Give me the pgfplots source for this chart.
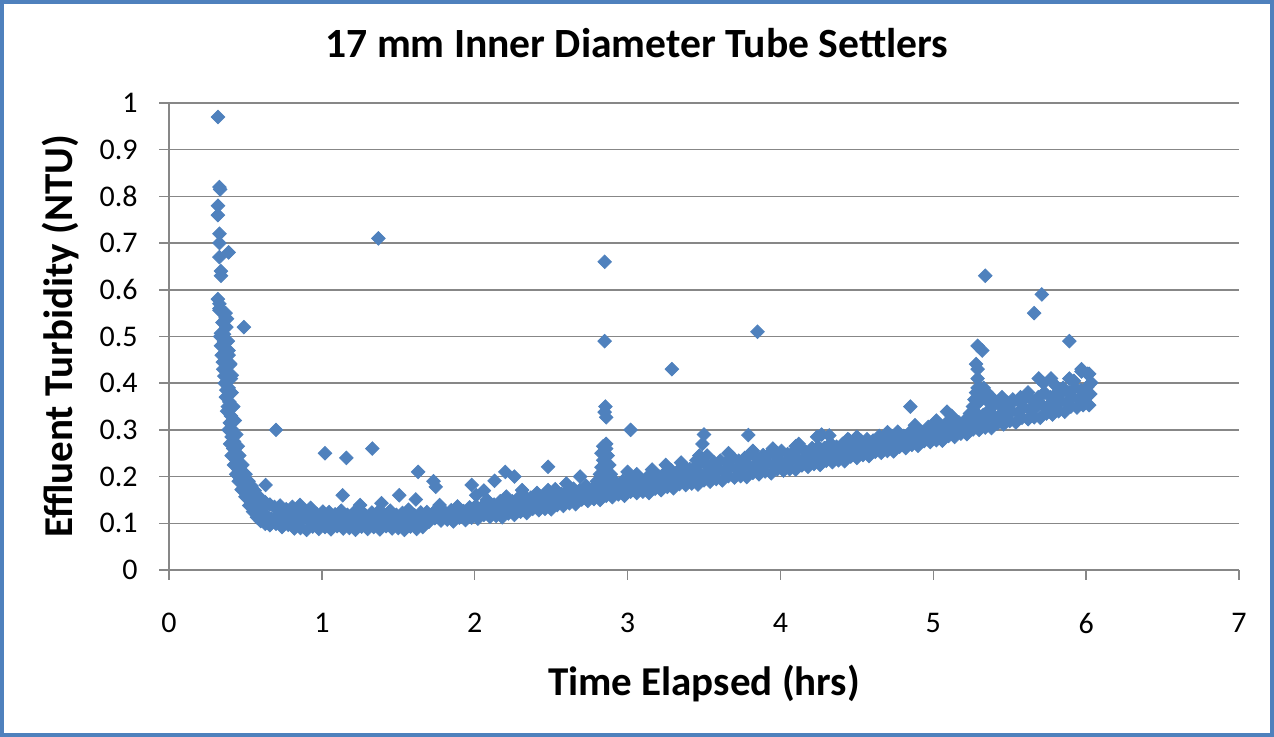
\documentclass[border=0pt]{standalone}
\usepackage{pgfplots}
\pgfplotsset{compat=1.18}
\usepackage{fontspec}
\setmainfont{Carlito}
\definecolor{excelblue}{HTML}{4F81BD}
\definecolor{gridgray}{HTML}{878787}
\pgfplotstableread{
x y
0.32 0.97
0.33 0.82
0.335 0.815
0.32 0.78
0.32 0.76
0.33 0.72
0.33 0.70
0.39 0.68
0.33 0.67
0.34 0.64
0.34 0.63
0.32 0.58
0.33 0.57
0.33 0.556
0.355 0.55
0.37 0.54
0.38 0.538
0.49 0.52
0.34 0.507
0.36 0.505
0.39 0.47
0.40 0.442
0.41 0.417
0.416 0.349
1.37 0.71
0.70 0.30
1.02 0.25
1.16 0.24
1.33 0.26
1.63 0.21
1.73 0.19
1.745 0.178
1.136 0.16
1.506 0.16
1.615 0.151
0.632 0.182
1.98 0.182
2.13 0.191
2.20 0.21
2.26 0.20
2.48 0.221
2.31 0.171
0.857 0.139
1.25 0.139
1.39 0.143
1.77 0.139
2.08 0.15
2.48 0.171
2.85 0.66
2.85 0.49
2.855 0.35
2.85 0.338
2.86 0.327
3.29 0.43
3.02 0.30
3.85 0.51
3.50 0.29
3.49 0.27
3.79 0.289
4.85 0.35
5.09 0.339
5.29 0.48
5.32 0.47
5.28 0.441
5.29 0.43
5.29 0.41
5.34 0.63
5.66 0.55
5.71 0.59
5.89 0.49
5.97 0.43
6.02 0.42
4.27 0.29
4.32 0.288
4.12 0.27
4.44 0.28
}\outliers
\pgfplotstableread{
x y
0.330 0.560
0.335 0.500
0.345 0.460
0.355 0.430
0.365 0.400
0.372 0.370
0.380 0.340
0.390 0.300
0.400 0.270
0.410 0.245
0.425 0.225
0.440 0.205
0.456 0.190
0.475 0.172
0.500 0.157
0.525 0.138
0.550 0.125
0.575 0.113
0.600 0.105
0.630 0.099
0.660 0.096
0.370 0.550
0.375 0.520
0.385 0.490
0.390 0.460
0.400 0.440
0.405 0.410
0.410 0.380
0.420 0.350
0.430 0.320
0.440 0.290
0.450 0.265
0.460 0.245
0.480 0.225
0.500 0.205
0.520 0.190
0.540 0.180
0.560 0.170
0.580 0.160
0.600 0.150
0.630 0.145
0.660 0.140
0.690 0.135
0.350 0.530
0.360 0.490
0.370 0.450
0.380 0.420
0.390 0.390
0.395 0.360
0.405 0.330
0.415 0.300
0.425 0.275
0.435 0.250
0.450 0.230
0.465 0.210
0.485 0.190
0.510 0.175
0.530 0.160
0.560 0.145
0.580 0.135
0.610 0.125
0.640 0.115
0.670 0.110
0.340 0.480
0.352 0.445
0.362 0.415
0.375 0.385
0.385 0.350
0.398 0.315
0.410 0.285
0.420 0.260
0.440 0.235
0.455 0.215
0.470 0.195
0.495 0.180
0.520 0.165
0.545 0.150
0.570 0.140
0.600 0.130
0.620 0.120
}\descent
\pgfplotstableread{
x y
0.700 0.099
0.713 0.118
0.727 0.138
0.740 0.092
0.753 0.111
0.767 0.130
0.780 0.097
0.793 0.116
0.807 0.135
0.820 0.089
0.833 0.107
0.847 0.124
0.860 0.090
0.873 0.108
0.887 0.127
0.900 0.086
0.913 0.110
0.927 0.133
0.940 0.093
0.953 0.107
0.967 0.120
0.980 0.088
0.993 0.106
1.007 0.125
1.020 0.092
1.033 0.108
1.047 0.124
1.060 0.087
1.073 0.103
1.087 0.119
1.100 0.094
1.113 0.110
1.127 0.127
1.140 0.089
1.153 0.104
1.167 0.118
1.180 0.090
1.193 0.106
1.207 0.122
1.220 0.086
1.233 0.108
1.247 0.129
1.260 0.093
1.273 0.105
1.287 0.117
1.300 0.088
1.313 0.106
1.327 0.123
1.340 0.092
1.353 0.108
1.367 0.124
1.380 0.087
1.393 0.103
1.407 0.119
1.420 0.094
1.433 0.110
1.447 0.127
1.460 0.089
1.473 0.104
1.487 0.118
1.500 0.090
1.513 0.106
1.527 0.122
1.540 0.086
1.553 0.108
1.567 0.129
1.580 0.093
1.593 0.105
1.607 0.117
1.620 0.088
1.633 0.106
1.647 0.123
1.660 0.092
1.673 0.108
1.687 0.124
1.700 0.103
1.713 0.113
1.727 0.122
1.740 0.111
1.753 0.121
1.767 0.131
1.780 0.106
1.793 0.115
1.807 0.123
1.820 0.108
1.833 0.118
1.847 0.128
1.860 0.104
1.873 0.120
1.887 0.136
1.900 0.112
1.913 0.119
1.927 0.126
1.940 0.107
1.953 0.121
1.967 0.134
1.980 0.112
1.993 0.125
2.007 0.137
2.020 0.110
2.033 0.123
2.047 0.135
2.060 0.118
2.073 0.132
2.087 0.146
2.100 0.114
2.113 0.127
2.127 0.140
2.140 0.116
2.153 0.131
2.167 0.147
2.180 0.113
2.193 0.135
2.207 0.157
2.220 0.121
2.233 0.134
2.247 0.147
2.260 0.118
2.273 0.137
2.287 0.155
2.300 0.125
2.313 0.141
2.327 0.158
2.340 0.122
2.353 0.139
2.367 0.155
2.380 0.131
2.393 0.148
2.407 0.165
2.420 0.128
2.433 0.143
2.447 0.158
2.460 0.131
2.473 0.147
2.487 0.164
2.500 0.130
2.513 0.151
2.527 0.173
2.540 0.139
2.553 0.151
2.567 0.163
2.580 0.137
2.593 0.154
2.607 0.171
2.620 0.143
2.633 0.158
2.647 0.174
2.660 0.141
2.673 0.156
2.687 0.171
2.700 0.151
2.713 0.166
2.727 0.181
2.740 0.148
2.753 0.161
2.767 0.174
2.780 0.152
2.793 0.166
2.807 0.180
2.820 0.150
2.833 0.169
2.847 0.189
2.860 0.159
2.873 0.169
2.887 0.179
2.900 0.156
2.913 0.171
2.927 0.187
2.940 0.162
2.953 0.176
2.967 0.190
2.980 0.159
2.993 0.173
3.007 0.187
3.020 0.168
3.033 0.183
3.047 0.198
3.060 0.165
3.073 0.178
3.087 0.191
3.100 0.168
3.113 0.183
3.127 0.198
3.140 0.165
3.153 0.186
3.167 0.208
3.180 0.174
3.193 0.187
3.207 0.200
3.220 0.171
3.233 0.190
3.247 0.209
3.260 0.178
3.273 0.195
3.287 0.213
3.300 0.175
3.313 0.193
3.327 0.211
3.340 0.184
3.353 0.203
3.367 0.222
3.380 0.182
3.393 0.199
3.407 0.216
3.420 0.185
3.433 0.203
3.447 0.222
3.460 0.183
3.473 0.207
3.487 0.232
3.500 0.192
3.513 0.207
3.527 0.222
3.540 0.189
3.553 0.209
3.567 0.230
3.580 0.195
3.593 0.214
3.607 0.234
3.620 0.192
3.633 0.211
3.647 0.231
3.660 0.201
3.673 0.221
3.687 0.241
3.700 0.198
3.713 0.216
3.727 0.234
3.740 0.201
3.753 0.220
3.767 0.240
3.780 0.199
3.793 0.224
3.807 0.249
3.820 0.208
3.833 0.223
3.847 0.239
3.860 0.205
3.873 0.225
3.887 0.246
3.900 0.211
3.913 0.230
3.927 0.249
3.940 0.207
3.953 0.226
3.967 0.246
3.980 0.216
3.993 0.235
4.007 0.255
4.020 0.213
4.033 0.230
4.047 0.248
4.060 0.216
4.073 0.235
4.087 0.254
4.100 0.215
4.113 0.239
4.127 0.263
4.140 0.224
4.153 0.238
4.167 0.253
4.180 0.221
4.193 0.241
4.207 0.261
4.220 0.227
4.233 0.245
4.247 0.264
4.260 0.225
4.273 0.243
4.287 0.261
4.300 0.234
4.313 0.252
4.327 0.271
4.340 0.231
4.353 0.247
4.367 0.264
4.380 0.235
4.393 0.252
4.407 0.270
4.420 0.233
4.433 0.256
4.447 0.279
4.460 0.243
4.473 0.256
4.487 0.269
4.500 0.240
4.513 0.258
4.527 0.277
4.540 0.246
4.553 0.263
4.567 0.280
4.580 0.244
4.593 0.260
4.607 0.277
4.620 0.253
4.633 0.270
4.647 0.287
4.660 0.251
4.673 0.266
4.687 0.281
4.700 0.255
4.713 0.271
4.727 0.287
4.740 0.254
4.753 0.275
4.767 0.296
4.780 0.264
4.793 0.275
4.807 0.287
4.820 0.261
4.833 0.278
4.847 0.295
4.860 0.268
4.873 0.283
4.887 0.298
4.900 0.266
4.913 0.280
4.927 0.295
4.940 0.276
4.953 0.291
4.967 0.306
4.980 0.274
4.993 0.286
5.007 0.299
5.020 0.278
5.033 0.291
5.047 0.305
5.060 0.277
5.073 0.296
5.087 0.315
5.100 0.287
5.113 0.297
5.127 0.307
5.140 0.285
5.153 0.300
5.167 0.316
5.180 0.292
5.193 0.306
5.207 0.320
5.220 0.291
5.233 0.305
5.247 0.319
5.260 0.301
5.273 0.317
5.287 0.334
5.300 0.300
5.313 0.316
5.327 0.332
5.340 0.305
5.353 0.324
5.367 0.343
5.380 0.304
5.393 0.330
5.407 0.357
5.420 0.314
5.433 0.331
5.447 0.349
5.460 0.312
5.473 0.335
5.487 0.358
5.500 0.319
5.513 0.340
5.527 0.362
5.540 0.316
5.553 0.337
5.567 0.359
5.580 0.326
5.593 0.348
5.607 0.370
5.620 0.323
5.633 0.343
5.647 0.363
5.660 0.327
5.673 0.348
5.687 0.370
5.700 0.326
5.713 0.353
5.727 0.380
5.740 0.335
5.753 0.352
5.767 0.370
5.780 0.333
5.793 0.356
5.807 0.379
5.820 0.340
5.833 0.361
5.847 0.382
5.860 0.339
5.873 0.359
5.887 0.380
5.900 0.350
5.913 0.370
5.927 0.391
5.940 0.348
5.953 0.366
5.967 0.385
5.980 0.353
5.993 0.372
6.007 0.392
6.020 0.353
6.027 0.377
6.033 0.401
}\band
\pgfplotstableread{
x y
2.80 0.19
2.82 0.205
2.83 0.22
2.84 0.235
2.85 0.25
2.86 0.26
2.86 0.27
2.87 0.245
2.88 0.225
2.89 0.205
2.85 0.215
2.87 0.195
2.83 0.25
2.84 0.265
5.24 0.335
5.26 0.35
5.27 0.365
5.28 0.38
5.29 0.39
5.31 0.385
5.30 0.36
5.32 0.375
5.33 0.39
5.34 0.37
5.35 0.38
5.36 0.36
5.38 0.37
5.45 0.37
5.52 0.365
5.57 0.37
5.62 0.38
5.69 0.41
5.72 0.40
5.77 0.41
5.80 0.395
5.85 0.39
5.89 0.41
5.92 0.405
5.97 0.425
6.01 0.42
2.01 0.16
2.06 0.17
2.60 0.185
2.69 0.20
3.00 0.21
3.06 0.205
3.16 0.215
3.25 0.225
3.35 0.23
3.45 0.235
3.47 0.245
3.52 0.245
3.66 0.25
3.82 0.255
3.95 0.26
4.10 0.265
4.24 0.285
4.50 0.285
4.70 0.295
4.88 0.31
5.02 0.32
5.12 0.33
}\bumps
\begin{document}
\begin{tikzpicture}
\path[use as bounding box] (0pt,0pt) rectangle (637pt,368.5pt);
\draw[excelblue, line width=2pt] (1pt,1pt) rectangle (636pt,367.5pt);
\begin{axis}[
  at={(84.5pt,83.5pt)}, anchor=south west,
  scale only axis, width=535pt, height=233.5pt,
  xmin=0, xmax=7, ymin=0, ymax=1,
  xtick={0,1,2,3,4,5,6,7},
  ytick={0,0.1,0.2,0.3,0.4,0.5,0.6,0.7,0.8,0.9,1},
  axis lines*=left,
  axis line style={gridgray, line width=0.75pt},
  ymajorgrids, major grid style={gridgray, line width=0.75pt},
  tick style={gridgray, line width=0.75pt},
  tick align=outside, major tick length=5pt,
  /pgf/number format/assume math mode=true,
  yticklabel style={/pgf/number format/fixed, /pgf/number format/precision=1, anchor=east, inner sep=0pt, xshift=-10.5pt},
  xticklabel style={anchor=north, inner sep=0pt, yshift=-16.5pt},
  ticklabel style={font=\fontsize{15}{18}\selectfont},
  title={17 mm Inner Diameter Tube Settlers},
  title style={font=\bfseries\fontsize{20.8}{25}\selectfont, at={(axis description cs:0.4374,1.072)}, anchor=base, yshift=0pt},
  xlabel={Time Elapsed (hrs)},
  xlabel style={font=\bfseries\fontsize{20.5}{24}\selectfont, at={(axis description cs:0.5,-0.2677)}, anchor=base, yshift=0pt},
  ylabel={Effluent Turbidity (NTU)},
  ylabel style={font=\bfseries\fontsize{20.5}{24}\selectfont, at={(axis description cs:-0.0905,0.5)}, anchor=base, xshift=0pt},
  clip=false,
]
\addplot[only marks, mark=square*, mark size=2.4pt, mark options={rotate=45, fill=excelblue, draw=excelblue, line width=0.4pt}] table {\descent};
\addplot[only marks, mark=square*, mark size=2.4pt, mark options={rotate=45, fill=excelblue, draw=excelblue, line width=0.4pt}] table {\band};
\addplot[only marks, mark=square*, mark size=2.4pt, mark options={rotate=45, fill=excelblue, draw=excelblue, line width=0.4pt}] table {\bumps};
\addplot[only marks, mark=square*, mark size=2.4pt, mark options={rotate=45, fill=excelblue, draw=excelblue, line width=0.4pt}] table {\outliers};
\end{axis}
\end{tikzpicture}
\end{document}
